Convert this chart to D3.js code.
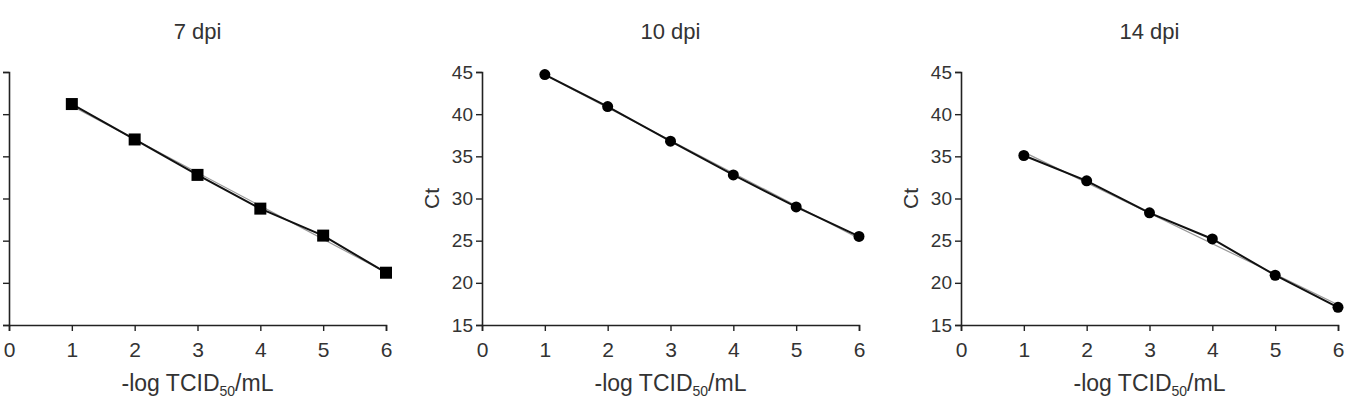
<!DOCTYPE html>
<html>
<head>
<meta charset="utf-8">
<script src="https://cdnjs.cloudflare.com/ajax/libs/d3/7.8.5/d3.min.js"></script>
<style>
  body { margin: 0; background: #fff; }
  text { font-family: "Liberation Sans", Arial, sans-serif; fill: #333; }
</style>
</head>
<body>
<div id="chart"></div>
<script>
// data
var dilutions = [1, 2, 3, 4, 5, 6];
var ct7 = [41.2, 37.0, 32.8, 28.8, 25.6, 21.2];
var ct10 = [44.7, 40.9, 36.8, 32.8, 29.0, 25.5];
var ct14 = [35.1, 32.1, 28.3, 25.2, 20.9, 17.1];
var xTicks = [0, 1, 2, 3, 4, 5, 6];
var yTicks = [15, 20, 25, 30, 35, 40, 45];

var panels = [
  { title: "7 dpi", values: ct7, marker: "square", left: 9 },
  { title: "10 dpi", values: ct10, marker: "circle", left: 482 },
  { title: "14 dpi", values: ct14, marker: "circle", left: 961 }
];

function init() {
  var W = 1347, H = 398;
  var top = 72, bottom = 325, pw = 377;

  var svg = d3.select("#chart").append("svg")
    .attr("width", W)
    .attr("height", H);

  panels.forEach(function(p) {
    var x = d3.scaleLinear().domain([0, 6]).range([0, pw]);
    var y = d3.scaleLinear().domain([15, 45]).range([bottom - top, 0]);

    var g = svg.append("g")
      .attr("transform", "translate(" + p.left + "," + top + ")");

    // axes
    var xAxis = g.append("g")
      .attr("transform", "translate(0," + (bottom - top) + ")")
      .call(d3.axisBottom(x).tickValues(xTicks).tickSize(6).tickPadding(11).tickFormat(d3.format("d")));
    var yAxis = g.append("g")
      .call(d3.axisLeft(y).tickValues(yTicks).tickSize(6).tickPadding(3).tickFormat(d3.format("d")));

    [xAxis, yAxis].forEach(function(a) {
      a.select(".domain").attr("stroke", "#222").attr("stroke-width", 1.6);
      a.selectAll(".tick line").attr("stroke", "#222").attr("stroke-width", 1.4);
      a.selectAll("text").attr("fill", "#333").style("font-family", "Liberation Sans, Arial, sans-serif");
    });
    xAxis.selectAll("text").style("font-size", "21px").attr("dy", "0.72em");
    yAxis.selectAll("text").style("font-size", "19px");

    // linear fit (thin gray)
    var mx = d3.mean(dilutions), my = d3.mean(p.values);
    var sxy = d3.sum(dilutions, function(d, i) { return (d - mx) * (p.values[i] - my); });
    var sxx = d3.sum(dilutions, function(d) { return (d - mx) * (d - mx); });
    var slope = sxy / sxx, icpt = my - slope * mx;
    g.append("line")
      .attr("x1", x(1)).attr("y1", y(icpt + slope))
      .attr("x2", x(6)).attr("y2", y(icpt + slope * 6))
      .attr("stroke", "#999")
      .attr("stroke-width", 1.2);

    // data line
    var line = d3.line()
      .x(function(d, i) { return x(dilutions[i]); })
      .y(function(d) { return y(d); });
    g.append("path")
      .datum(p.values)
      .attr("d", line)
      .attr("fill", "none")
      .attr("stroke", "#111")
      .attr("stroke-width", 2);

    // markers
    if (p.marker == "square") {
      g.selectAll("rect.pt")
        .data(p.values)
        .enter()
        .append("rect")
        .attr("class", "pt")
        .attr("x", function(d, i) { return x(dilutions[i]) - 6; })
        .attr("y", function(d) { return y(d) - 6; })
        .attr("width", 12)
        .attr("height", 12)
        .attr("fill", "#000");
    } else {
      g.selectAll("circle.pt")
        .data(p.values)
        .enter()
        .append("circle")
        .attr("class", "pt")
        .attr("cx", function(d, i) { return x(dilutions[i]); })
        .attr("cy", function(d) { return y(d); })
        .attr("r", 5.5)
        .attr("fill", "#000");
    }

    // title
    g.append("text")
      .attr("x", x(3))
      .attr("y", 39 - top)
      .attr("text-anchor", "middle")
      .style("font-size", "22px")
      .text(p.title);

    // y label
    g.append("text")
      .attr("transform", "translate(-43," + y(30) + ") rotate(-90)")
      .attr("text-anchor", "middle")
      .style("font-size", "21px")
      .text("Ct");

    // x label
    var xl = g.append("text")
      .attr("x", x(3))
      .attr("y", 391 - top)
      .attr("text-anchor", "middle")
      .style("font-size", "23px");
    xl.append("tspan").text("-log TCID");
    xl.append("tspan").attr("dy", "0.35em").style("font-size", "14px").text("50");
    xl.append("tspan").attr("dy", "-0.22em").text("/mL");
  });
}

window.onload = init;
</script>
</body>
</html>
